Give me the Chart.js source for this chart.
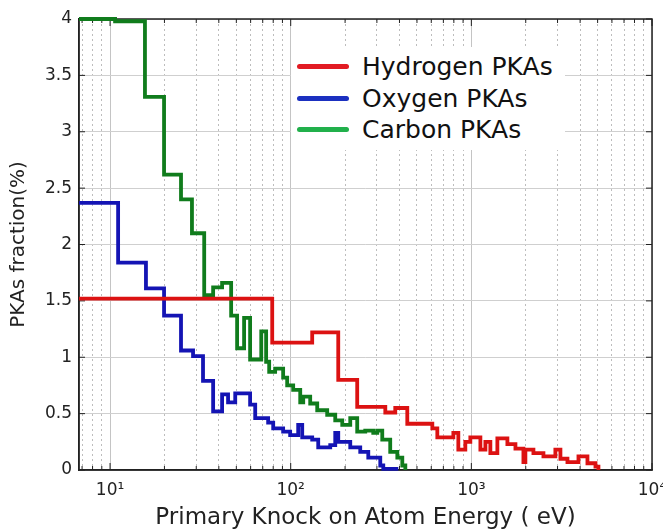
<!DOCTYPE html>
<html>
<head>
<meta charset="utf-8">
<script src="https://cdn.jsdelivr.net/npm/chart.js@4.4.1/dist/chart.umd.min.js"></script>
<style>
  html, body { margin: 0; padding: 0; background: #fff; }
  #wrap { position: relative; width: 663px; height: 532px; }
  #legend {
    position: absolute; left: 291px; top: 47px;
    background: #fff; padding: 4px 12px 4px 6px;
    font-family: "DejaVu Sans", sans-serif; font-size: 25px; color: #111;
  }
  .item { display: flex; align-items: center; height: 31.5px; }
  .swatch { width: 52px; height: 5px; border-radius: 3px; margin-right: 13px; }
</style>
</head>
<body>
<div id="wrap">
  <canvas id="pkaChart"></canvas>
  <div id="legend"></div>
</div>
<script>
// energy (eV) where each step starts, and the PKA fraction (%) on that step
const hydrogenEnergy = [6.73, 79.0, 131.5, 183.3, 233.4, 333.9, 379.1, 441.9, 608, 648, 795, 847, 926, 987,
    1122, 1196, 1274, 1393, 1583, 1754, 1942, 1991, 2206, 2506, 2918, 3112, 3404, 3917, 4392, 4865, 5053];
const hydrogenFraction = [1.52, 1.13, 1.22, 0.80, 0.56, 0.51, 0.55, 0.41, 0.37, 0.29, 0.33, 0.18, 0.25, 0.29,
    0.18, 0.25, 0.15, 0.28, 0.23, 0.19, 0.07, 0.18, 0.15, 0.12, 0.18, 0.10, 0.07, 0.12, 0.06, 0.03, 0.0];

const oxygenEnergy = [6.73, 11.08, 15.8, 19.9, 24.7, 28.8, 32.7, 37.2, 41.7, 45.0, 49.3, 59.6, 63.6, 75.0, 80.0,
    90.8, 99.3, 110.0, 115.8, 131.5, 142.0, 165.5, 176.4, 183.3, 213.6, 242.6, 268.8, 313.2, 325.4, 394];
const oxygenFraction = [2.37, 1.84, 1.61, 1.37, 1.06, 1.01, 0.79, 0.52, 0.67, 0.60, 0.68, 0.58, 0.46, 0.42, 0.37,
    0.34, 0.31, 0.40, 0.29, 0.27, 0.20, 0.22, 0.33, 0.25, 0.20, 0.16, 0.11, 0.04, 0.01, 0.01];

const carbonEnergy = [6.73, 10.66, 15.6, 19.9, 24.7, 28.4, 33.2, 37.2, 41.7, 46.8, 50.5, 55.2, 59.6, 68.7, 73.1,
    76.0, 82.0, 90.8, 95.6, 103.2, 112.9, 117.3, 128.2, 140.2, 159.2, 176.4, 192.9, 213.6, 233.4, 258.6, 286.4,
    301.4, 321.2, 355.5, 389.2, 414.7, 431];
const carbonFraction = [4.00, 3.98, 3.31, 2.62, 2.40, 2.10, 1.55, 1.62, 1.66, 1.37, 1.08, 1.35, 0.98, 1.23, 0.96,
    0.87, 0.90, 0.82, 0.75, 0.71, 0.60, 0.65, 0.59, 0.53, 0.49, 0.44, 0.40, 0.46, 0.34, 0.35, 0.33,
    0.35, 0.27, 0.16, 0.11, 0.04, 0.0];

const seriesNames = ["Hydrogen PKAs", "Oxygen PKAs", "Carbon PKAs"];
const lineColors = ["#dc1212", "#1414b4", "#107c1c"];
const legendColors = ["#e21b23", "#1b30c0", "#21b04b"];

const xMin = 6.73, xMax = 10000;
const yTicks = [0, 0.5, 1, 1.5, 2, 2.5, 3, 3.5, 4];
const sup = { 1: "\u00b9", 2: "\u00b2", 3: "\u00b3", 4: "\u2074" };

function toPoints(xs, ys) {
    return xs.map((x, i) => ({ x: x, y: ys[i] }));
}

function isDecade(v) {
    const e = Math.log10(v);
    return Math.abs(e - Math.round(e)) < 1e-9;
}

// log grid positions 1..9 x 10^n inside the axis range
const xGrid = [];
for (let e = 0; e <= 4; e++) {
    for (let m = 1; m <= 9; m++) {
        const v = m * Math.pow(10, e);
        if (v >= xMin && v <= xMax) xGrid.push(v);
    }
}

const framePlugin = {
    id: "frame",
    beforeDatasetsDraw(chart) {
        const { ctx, chartArea: a, scales: { x, y } } = chart;
        ctx.save();
        ctx.strokeStyle = "#222";
        ctx.lineWidth = 1;
        ctx.beginPath();
        x.ticks.forEach(t => {
            const px = x.getPixelForValue(t.value);
            const len = isDecade(t.value) ? 7 : 4;
            ctx.moveTo(px, a.bottom); ctx.lineTo(px, a.bottom - len);
            ctx.moveTo(px, a.top); ctx.lineTo(px, a.top + len);
        });
        y.ticks.forEach(t => {
            const py = y.getPixelForValue(t.value);
            ctx.moveTo(a.left, py); ctx.lineTo(a.left + 6, py);
            ctx.moveTo(a.right, py); ctx.lineTo(a.right - 6, py);
        });
        ctx.stroke();
        ctx.lineWidth = 1.5;
        ctx.strokeRect(a.left, a.top, a.right - a.left, a.bottom - a.top);
        ctx.restore();
    }
};

Chart.defaults.font.family = '"DejaVu Sans", sans-serif';
Chart.defaults.color = "#222";

const datasets = [hydrogenEnergy, oxygenEnergy, carbonEnergy].map((xs, i) => ({
    label: seriesNames[i],
    data: toPoints(xs, [hydrogenFraction, oxygenFraction, carbonFraction][i]),
    borderColor: lineColors[i],
    borderWidth: 3.8,
    stepped: true,
    pointRadius: 0,
    fill: false,
    clip: false
}));

const pkaChart = new Chart(document.getElementById("pkaChart"), {
    type: "line",
    data: { datasets: datasets },
    options: {
        responsive: true,
        maintainAspectRatio: false,
        animation: false,
        layout: { padding: { left: 0, right: 11, top: 19, bottom: 0 } },
        plugins: { legend: { display: false }, tooltip: { enabled: false } },
        scales: {
            x: {
                type: "logarithmic",
                min: xMin,
                max: xMax,
                afterBuildTicks: s => { s.ticks = xGrid.map(v => ({ value: v })); },
                afterFit: s => { s.height = 62; s.paddingLeft = 0; s.paddingRight = 0; },
                ticks: {
                    autoSkip: false,
                    maxRotation: 0,
                    padding: 10,
                    font: { size: 17 },
                    color: "#222",
                    callback: v => isDecade(v) ? "10" + sup[Math.round(Math.log10(v))] : ""
                },
                grid: {
                    drawTicks: false,
                    color: c => isDecade(c.tick.value) ? "#c4c4c4" : "#bdbdbd",
                    lineWidth: 1
                },
                border: {
                    color: "#222",
                    width: 1.5,
                    dash: c => (c.tick && !isDecade(c.tick.value)) ? [2, 3] : []
                },
                title: {
                    display: true,
                    text: "Primary Knock on Atom Energy ( eV)",
                    font: { size: 23 },
                    color: "#222",
                    padding: { top: 0, bottom: 0 }
                }
            },
            y: {
                min: 0,
                max: 4,
                afterBuildTicks: s => { s.ticks = yTicks.map(v => ({ value: v })); },
                afterFit: s => { s.width = 79; },
                ticks: { padding: 7, font: { size: 17 }, color: "#222", callback: v => String(v) },
                grid: { drawTicks: false, color: "#cfcfcf", lineWidth: 1 },
                border: { color: "#222", width: 1.5 },
                title: {
                    display: true,
                    text: "PKAs fraction(%)",
                    font: { size: 20 },
                    color: "#222",
                    padding: { top: 7, bottom: 0 }
                }
            }
        }
    },
    plugins: [framePlugin]
});

// legend inside the plot, built from the datasets
const legendBox = document.getElementById("legend");
pkaChart.data.datasets.forEach((d, i) => {
    const row = document.createElement("div");
    row.className = "item";
    const sw = document.createElement("span");
    sw.className = "swatch";
    sw.style.background = legendColors[i];
    const txt = document.createElement("span");
    txt.textContent = d.label;
    row.appendChild(sw);
    row.appendChild(txt);
    legendBox.appendChild(row);
});
</script>
</body>
</html>
